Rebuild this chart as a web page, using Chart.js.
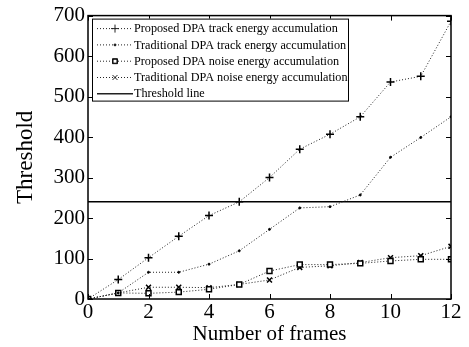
<!DOCTYPE html>
<html>
<head>
<meta charset="utf-8">
<script src="https://cdn.jsdelivr.net/npm/chart.js@4.4.1/dist/chart.umd.min.js"></script>
<style>
  html, body { margin: 0; padding: 0; background: #fff; }
  #wrap { width: 469px; height: 347px; position: relative; }
</style>
</head>
<body>
<div id="wrap"><canvas id="chart"></canvas></div>
<script>
// ── Data ────────────────────────────────────────────────
const frames = [0, 1, 2, 3, 4, 5, 6, 7, 8, 9, 10, 11, 12];
const proposedTrack = [0, 48, 102, 155, 206, 240, 300, 370, 407, 450, 536, 550, 686];
const traditionalTrack = [0, 15, 66, 66, 86, 119, 172, 225, 228, 257, 350, 399, 450];
const proposedNoise = [0, 15, 14, 17, 24, 36, 69, 85, 85, 88, 94, 98, 98];
const traditionalNoise = [0, 15, 29, 29, 28, 36, 47, 78, 82, 90, 102, 107, 130];
const thresholdValue = 240;
const yTicks = [0, 100, 200, 300, 400, 500, 600, 700];
const xTicks = [0, 2, 4, 6, 8, 10, 12];

const legendLabels = [
    'Proposed DPA track energy accumulation',
    'Traditional DPA track energy accumulation',
    'Proposed DPA noise energy accumulation',
    'Traditional DPA noise energy accumulation',
    'Threshold line'
];

const FONT = '"Liberation Serif", "Times New Roman", serif';

const toXY = (arr) => arr.map((v, i) => ({ x: frames[i], y: v }));

const dotted = {
    borderColor: '#222',
    borderWidth: 1,
    borderDash: [1, 2],
    pointBorderColor: '#000',
    pointBackgroundColor: '#fff',
    tension: 0,
    fill: false
};

// ── Inward ticks + box (MATLAB look) ────────────────────
const boxTicks = {
    id: 'boxTicks',
    afterDatasetsDraw(chart) {
        const { ctx, chartArea: a, scales } = chart;
        ctx.save();
        ctx.strokeStyle = '#000';
        ctx.lineWidth = 1;
        ctx.beginPath();
        yTicks.forEach(v => {
            const y = Math.round(scales.y.getPixelForValue(v)) + 0.5;
            ctx.moveTo(a.left, y); ctx.lineTo(a.left + 5, y);
            ctx.moveTo(a.right, y); ctx.lineTo(a.right - 5, y);
        });
        xTicks.forEach(v => {
            const x = Math.round(scales.x.getPixelForValue(v)) + 0.5;
            ctx.moveTo(x, a.bottom); ctx.lineTo(x, a.bottom - 5);
            ctx.moveTo(x, a.top); ctx.lineTo(x, a.top + 5);
        });
        ctx.stroke();
        ctx.lineWidth = 1.5;
        ctx.strokeRect(a.left, a.top, a.right - a.left, a.bottom - a.top);
        ctx.restore();
    }
};

// ── Legend box drawn inside the plot ────────────────────
const insideLegend = {
    id: 'insideLegend',
    afterDraw(chart) {
        const { ctx, chartArea: a } = chart;
        const bx = a.left + 4, by = a.top + 3, bw = 256, bh = 82;
        ctx.save();
        ctx.fillStyle = '#fff';
        ctx.fillRect(bx, by, bw, bh);
        ctx.strokeStyle = '#000';
        ctx.lineWidth = 1;
        ctx.strokeRect(bx + 0.5, by + 0.5, bw, bh);
        ctx.font = '12.2px ' + FONT;
        ctx.textBaseline = 'middle';
        const styles = chart.data.datasets;
        legendLabels.forEach((label, i) => {
            const y = by + 10 + i * 16.3;
            const ds = styles[i];
            ctx.strokeStyle = '#222';
            ctx.lineWidth = i === 4 ? 1.5 : 1;
            ctx.setLineDash(i === 4 ? [] : [1, 2]);
            ctx.beginPath();
            ctx.moveTo(bx + 5, y); ctx.lineTo(bx + 41, y);
            ctx.stroke();
            ctx.setLineDash([]);
            if (i < 4) {
                Chart.helpers.drawPoint(ctx, {
                    pointStyle: ds.pointStyle,
                    radius: ds.pointRadius,
                    borderWidth: 1
                }, bx + 23, y);
                ctx.fillStyle = '#fff';
                ctx.strokeStyle = '#000';
                if (ds.pointStyle === 'rect') {
                    ctx.fillRect(bx + 21, y - 2, 4, 4);
                    ctx.strokeRect(bx + 21, y - 2, 4, 4);
                }
            }
            ctx.fillStyle = '#000';
            ctx.fillText(label, bx + 42, y + 0.5);
        });
        ctx.restore();
    }
};

// ── Chart ───────────────────────────────────────────────
new Chart(document.getElementById('chart'), {
    type: 'line',
    data: {
        datasets: [
            { ...dotted, label: legendLabels[0], data: toXY(proposedTrack), pointStyle: 'cross', pointRadius: 4, pointBorderWidth: 1.5 },
            { ...dotted, label: legendLabels[1], data: toXY(traditionalTrack), pointStyle: 'circle', pointRadius: 1, pointBackgroundColor: '#000', pointBorderWidth: 1 },
            { ...dotted, label: legendLabels[2], data: toXY(proposedNoise), pointStyle: 'rect', pointRadius: 3.5, pointBorderWidth: 1.5 },
            { ...dotted, label: legendLabels[3], data: toXY(traditionalNoise), pointStyle: 'crossRot', pointRadius: 3.5, pointBorderWidth: 1.5 },
            {
                label: legendLabels[4],
                data: frames.map(f => ({ x: f, y: thresholdValue })),
                borderColor: '#000',
                borderWidth: 1.5,
                pointRadius: 0,
                fill: false
            }
        ]
    },
    options: {
        responsive: true,
        maintainAspectRatio: false,
        animation: false,
        layout: { padding: { top: 14, right: 18, left: 12, bottom: 0 } },
        plugins: {
            legend: { display: false },
            tooltip: { enabled: false }
        },
        scales: {
            x: {
                type: 'linear',
                min: 0,
                max: 12,
                afterBuildTicks: (s) => { s.ticks = xTicks.map(v => ({ value: v })); },
                afterFit: (s) => { s.height = 48; },
                grid: { display: false, drawTicks: false },
                border: { display: false },
                ticks: { color: '#000', font: { family: FONT, size: 21 }, padding: 1, maxRotation: 0 },
                title: {
                    display: true,
                    text: 'Number of frames',
                    color: '#000',
                    font: { family: FONT, size: 21 },
                    padding: { top: 0, bottom: 0 }
                }
            },
            y: {
                min: 0,
                max: 700,
                afterBuildTicks: (s) => { s.ticks = yTicks.map(v => ({ value: v })); },
                afterFit: (s) => { s.width = 76; },
                grid: { display: false, drawTicks: false },
                border: { display: false },
                ticks: { color: '#000', font: { family: FONT, size: 21 }, padding: 3 },
                title: {
                    display: true,
                    text: 'Threshold',
                    color: '#000',
                    font: { family: FONT, size: 23 },
                    padding: { top: 0, bottom: 6 }
                }
            }
        }
    },
    plugins: [boxTicks, insideLegend]
});
</script>
</body>
</html>
